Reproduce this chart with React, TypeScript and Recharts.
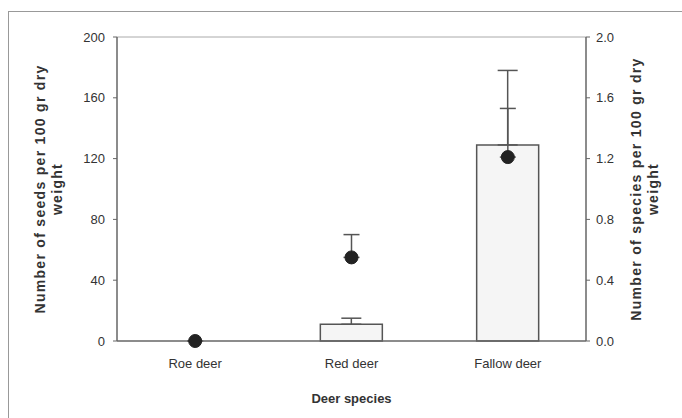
import {
  ComposedChart,
  Bar,
  Line,
  XAxis,
  YAxis,
  ErrorBar,
  ReferenceLine,
  Label,
} from "recharts";

const species = ["Roe deer", "Red deer", "Fallow deer"];
const seeds = [0, 11, 129];
const seedsErr = [0, 4, 49];
const speciesCount = [0, 0.55, 1.21];
const speciesErr = [0, 0.15, 0.32];

const seedTicks = [0, 40, 80, 120, 160, 200];
const countTicks = [0, 0.4, 0.8, 1.2, 1.6, 2.0];

const data = species.map((name, i) => ({
  name,
  seeds: seeds[i],
  seedsErr: [0, seedsErr[i]],
  count: speciesCount[i],
  countErr: [0, speciesErr[i]],
}));

const font = "'Liberation Sans', Arial, sans-serif";
const textColor = "#333";
const axisColor = "#666";

function YTitle(props: any) {
  const { viewBox, lines, side } = props;
  const { x, y, width, height } = viewBox;
  const cy = y + height / 2;
  const cx = side === "left" ? x - 17 : x + width;
  return (
    <g>
      {lines.map((t: string, i: number) => {
        const lx = cx + i * 17;
        return (
          <text
            key={i}
            x={lx}
            y={cy}
            transform={`rotate(-90 ${lx} ${cy})`}
            textAnchor="middle"
            dominantBaseline="central"
            fontFamily={font}
            fontSize={14}
            fontWeight={600}
            letterSpacing={1.3}
            fill={textColor}
          >
            {t}
          </text>
        );
      })}
    </g>
  );
}

function XTitle(props: any) {
  const { viewBox } = props;
  const { x, y, width } = viewBox;
  return (
    <text
      x={x + width / 2}
      y={y + 62}
      textAnchor="middle"
      fontFamily={font}
      fontSize={13}
      fontWeight={600}
      fill={textColor}
    >
      Deer species
    </text>
  );
}

export default function App() {
  return (
    <div style={{ position: "absolute", left: 0, top: 0, width: 682, height: 418, overflow: "hidden", background: "#fff" }}>
      <div
        style={{
          position: "absolute",
          left: 8,
          top: 11,
          width: 700,
          height: 420,
          borderTop: "1.5px solid #999",
          borderLeft: "1.5px solid #999",
        }}
      />
      <div style={{ position: "absolute", left: 0, top: 0 }}>
        <ComposedChart
          width={682}
          height={418}
          data={data}
          margin={{ top: 37, right: 46, bottom: 17, left: 57 }}
        >
          <XAxis
            xAxisId="bounds"
            type="number"
            domain={[0, 3]}
            ticks={[1, 2]}
            tick={false}
            tickSize={5}
            axisLine={false}
            tickLine={{ stroke: axisColor }}
            height={0}
          />
          <XAxis
            dataKey="name"
            height={60}
            tickLine={false}
            tickSize={0}
            tickMargin={18}
            axisLine={{ stroke: axisColor, strokeWidth: 1.5 }}
            tick={{ fontFamily: font, fontSize: 13, fill: textColor }}
            label={<Label content={<XTitle />} />}
          />
          <YAxis
            yAxisId="left"
            width={60}
            domain={[0, 200]}
            ticks={seedTicks}
            tickSize={4}
            tickMargin={8}
            axisLine={{ stroke: axisColor, strokeWidth: 1.5 }}
            tickLine={{ stroke: axisColor }}
            tick={{ fontFamily: font, fontSize: 13, fill: textColor }}
            label={
              <Label
                content={
                  <YTitle side="left" lines={["Number of seeds per 100 gr dry", "weight"]} />
                }
              />
            }
          />
          <YAxis
            yAxisId="right"
            orientation="right"
            width={50}
            domain={[0, 2]}
            ticks={countTicks}
            tickFormatter={(v: number) => v.toFixed(1)}
            tickSize={4}
            tickMargin={6}
            axisLine={{ stroke: axisColor, strokeWidth: 1.5 }}
            tickLine={{ stroke: axisColor }}
            tick={{ fontFamily: font, fontSize: 13, fill: textColor }}
            label={
              <Label
                content={
                  <YTitle side="right" lines={["Number of species per 100 gr dry", "weight"]} />
                }
              />
            }
          />
          <ReferenceLine yAxisId="left" y={200} stroke="#aaa" strokeWidth={1} />
          <Bar
            yAxisId="left"
            dataKey="seeds"
            barSize={62}
            fill="#f5f5f5"
            stroke="#555"
            strokeWidth={1.5}
            isAnimationActive={false}
          >
            <ErrorBar dataKey="seedsErr" width={10} stroke="#555" strokeWidth={1.5} direction="y" />
          </Bar>
          <Line
            yAxisId="right"
            dataKey="count"
            stroke="none"
            dot={{ r: 6.5, fill: "#222", stroke: "#222" }}
            activeDot={false}
            isAnimationActive={false}
          >
            <ErrorBar dataKey="countErr" width={8} stroke="#555" strokeWidth={1.5} direction="y" />
          </Line>
        </ComposedChart>
      </div>
    </div>
  );
}
